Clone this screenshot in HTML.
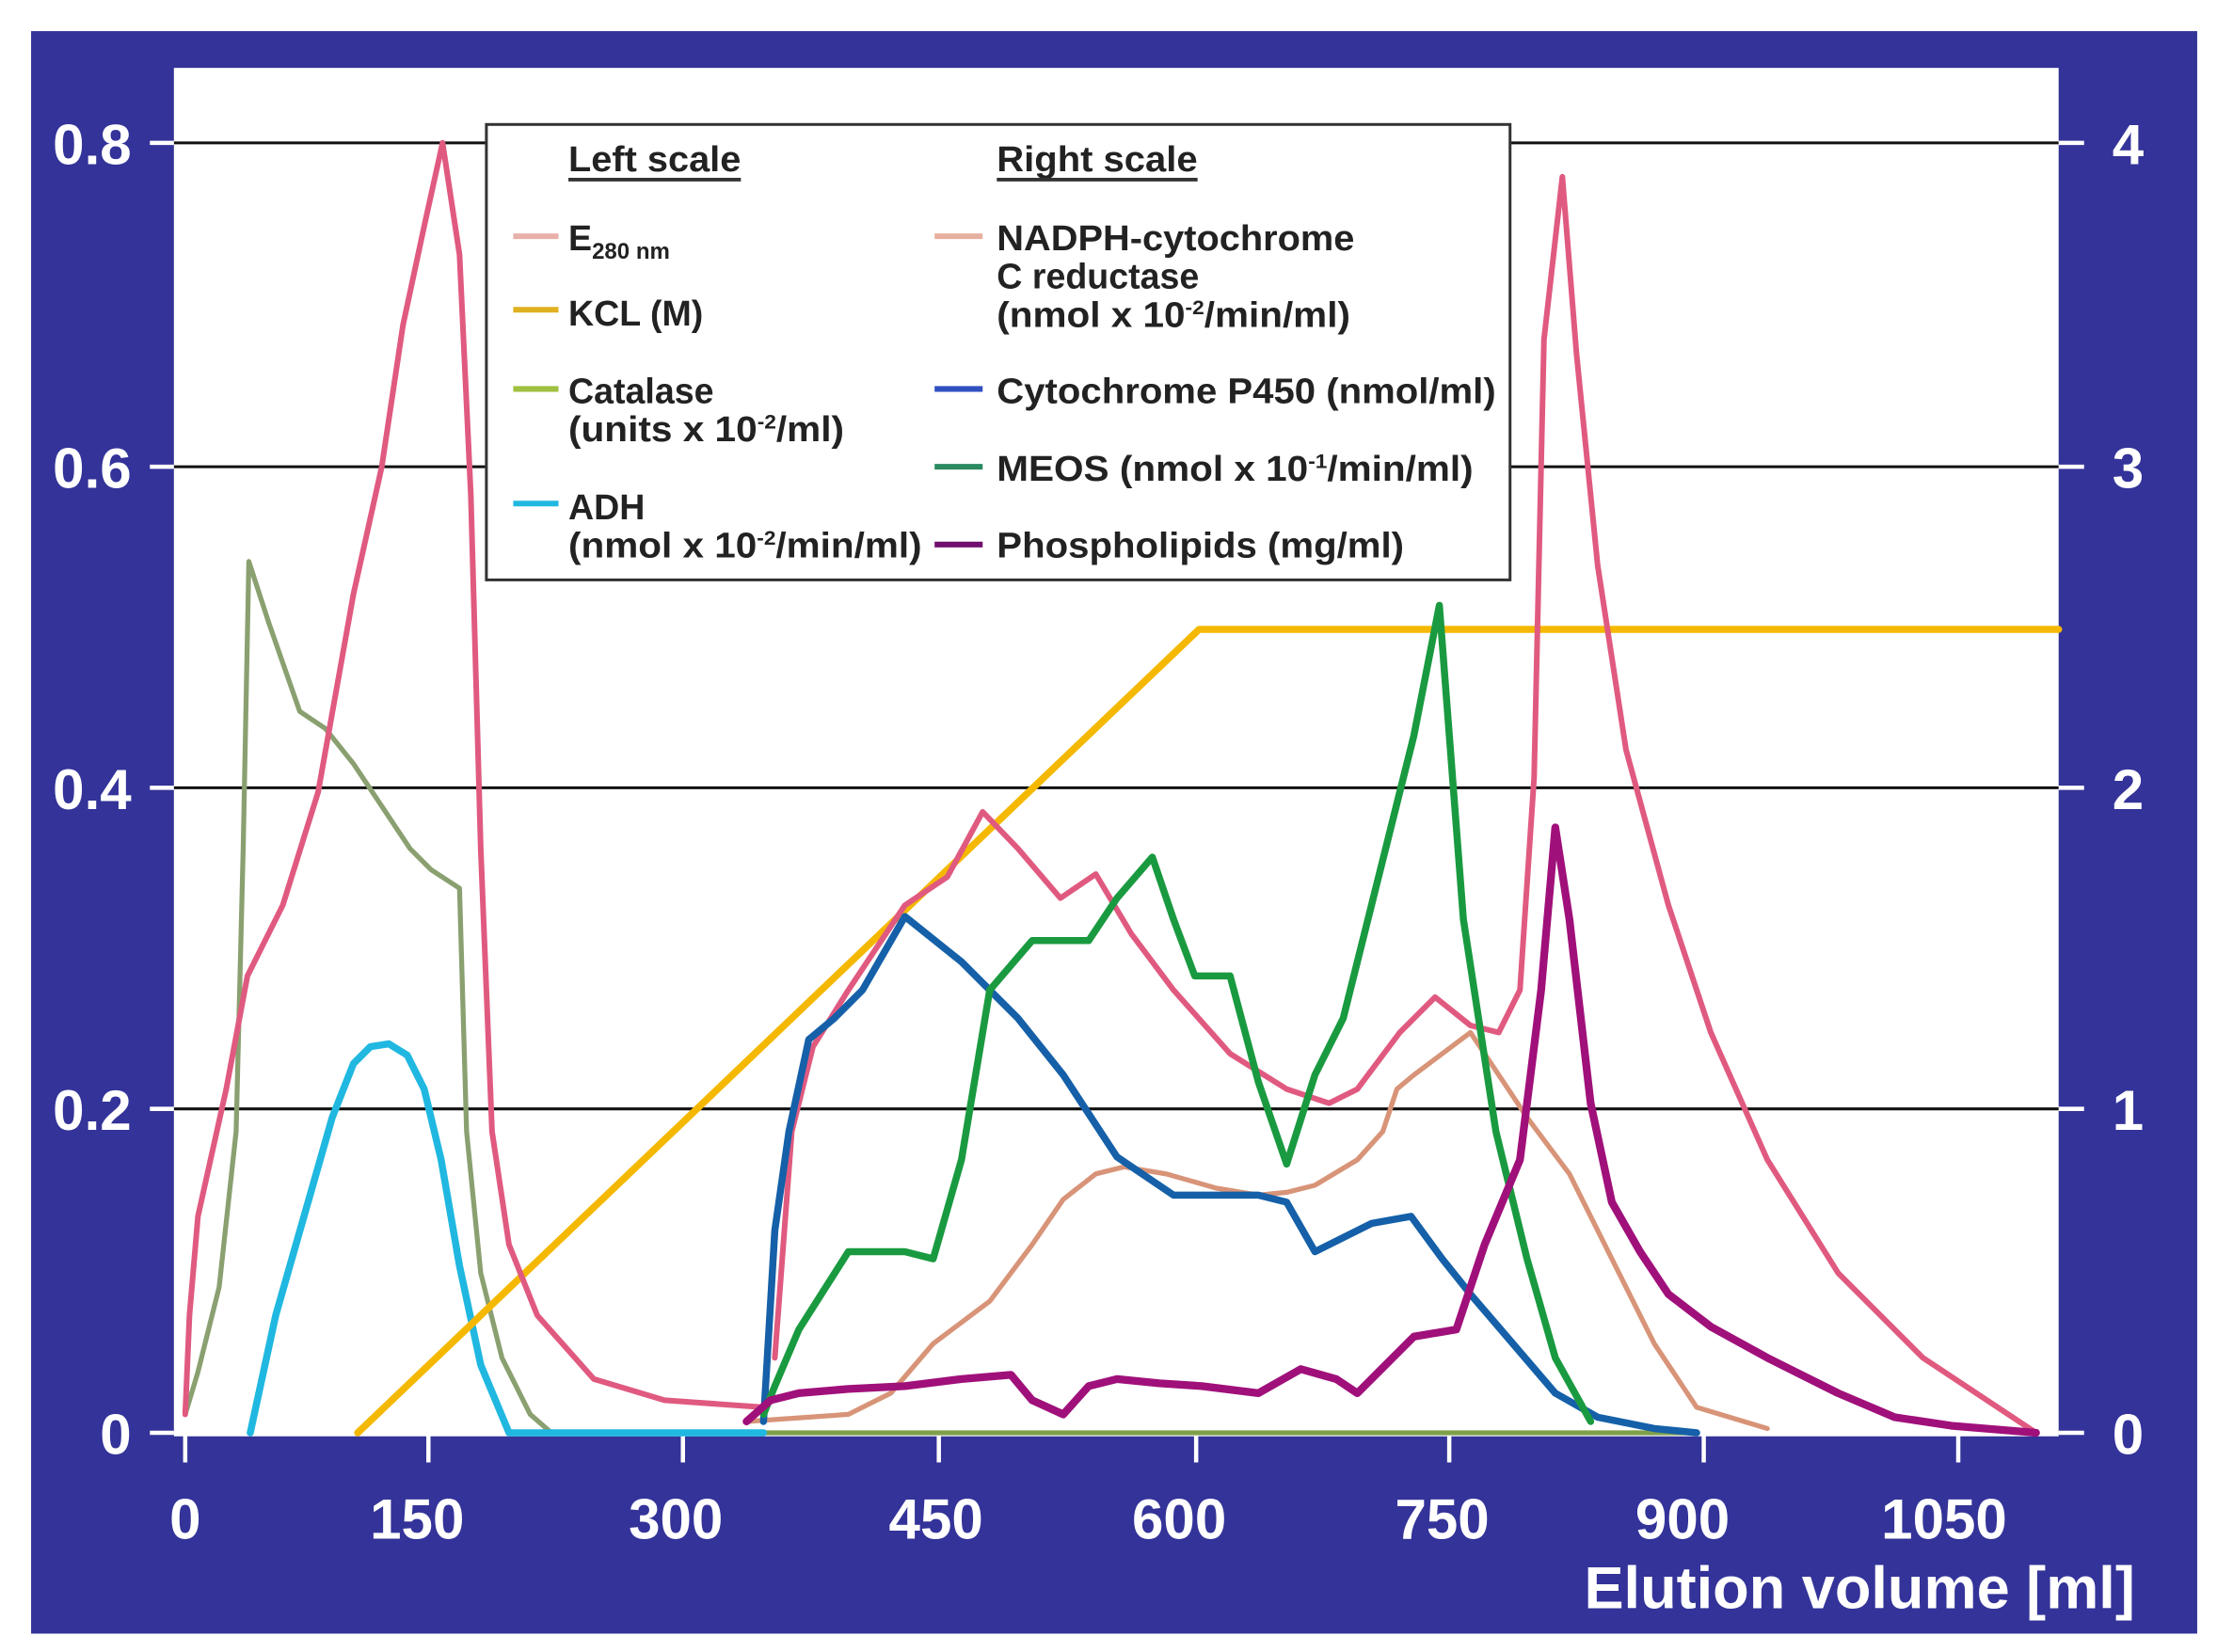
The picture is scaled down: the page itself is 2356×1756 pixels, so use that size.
<!DOCTYPE html>
<html><head><meta charset="utf-8"><style>
html,body{margin:0;padding:0;background:#fff;width:2356px;height:1756px;overflow:hidden}
svg{display:block}
text{font-family:"Liberation Sans",Arial,sans-serif;font-weight:bold}
</style></head><body>
<svg width="2356" height="1756" viewBox="0 0 1568 1168" preserveAspectRatio="none" xmlns="http://www.w3.org/2000/svg">
<rect x="0" y="0" width="1568" height="1168" fill="#fff"/>
<rect x="22" y="22" width="1532" height="1133" fill="#333399"/>
<rect x="123" y="48" width="1333" height="966" fill="#fff"/>
<g stroke="#111" stroke-width="2">
<line x1="123" y1="101" x2="1456" y2="101"/>
<line x1="123" y1="330" x2="1456" y2="330"/>
<line x1="123" y1="557" x2="1456" y2="557"/>
<line x1="123" y1="784" x2="1456" y2="784"/>
</g>
<g stroke="#fff" stroke-width="3">
<line x1="106" y1="101" x2="123" y2="101"/><line x1="106" y1="330" x2="123" y2="330"/>
<line x1="106" y1="557" x2="123" y2="557"/><line x1="106" y1="784" x2="123" y2="784"/>
<line x1="106" y1="1013" x2="123" y2="1013"/>
<line x1="1456" y1="101" x2="1474" y2="101"/><line x1="1456" y1="330" x2="1474" y2="330"/>
<line x1="1456" y1="557" x2="1474" y2="557"/><line x1="1456" y1="784" x2="1474" y2="784"/>
<line x1="1456" y1="1013" x2="1474" y2="1013"/>
<line x1="123" y1="1014" x2="1456" y2="1014"/>
<line x1="131" y1="1000" x2="131" y2="1034"/><line x1="303" y1="1000" x2="303" y2="1034"/>
<line x1="483" y1="1000" x2="483" y2="1034"/><line x1="664" y1="1000" x2="664" y2="1034"/>
<line x1="846" y1="1000" x2="846" y2="1034"/><line x1="1025" y1="1000" x2="1025" y2="1034"/>
<line x1="1205" y1="1000" x2="1205" y2="1034"/><line x1="1385" y1="1000" x2="1385" y2="1034"/>
</g>
<g fill="#fff" font-size="40">
<text x="93" y="116" text-anchor="end">0.8</text>
<text x="93" y="345" text-anchor="end">0.6</text>
<text x="93" y="572" text-anchor="end">0.4</text>
<text x="93" y="799" text-anchor="end">0.2</text>
<text x="93" y="1028" text-anchor="end">0</text>
<text x="1494" y="116">4</text><text x="1494" y="345">3</text><text x="1494" y="572">2</text>
<text x="1494" y="799">1</text><text x="1494" y="1028">0</text>
<g text-anchor="middle">
<text x="131" y="1088">0</text><text x="295" y="1088">150</text><text x="478" y="1088">300</text>
<text x="662" y="1088">450</text><text x="834" y="1088">600</text><text x="1020" y="1088">750</text>
<text x="1190" y="1088">900</text><text x="1375" y="1088">1050</text>
</g>
<text x="1510" y="1137" text-anchor="end" font-size="42">Elution volume [ml]</text>
</g>
<g fill="none" stroke-linejoin="round" stroke-linecap="round">
<polyline stroke="#7fa04a" stroke-width="3.5" points="390,1013 1200,1013"/>
<polyline stroke="#8aa070" stroke-width="3.5" points="131,1000 140,970 155,910 167,800 172,600 176,397 190,440 212,503 230,515 250,540 270,570 290,600 305,615 325,628 330,800 340,900 355,960 375,1000 390,1013"/>
<polyline stroke="#20b8e0" stroke-width="5" points="177,1013 195,930 215,860 235,790 250,752 262,740 275,738 288,746 300,770 312,820 325,895 340,965 360,1013 540,1013"/>
<polyline stroke="#f5b800" stroke-width="5" points="253,1013 848,445 1456,445"/>
<polyline stroke="#e05a80" stroke-width="4" points="131,1000 134,930 140,860 160,770 175,690 200,640 225,560 250,420 270,330 285,230 300,160 313,101 325,180 333,350 340,600 348,800 360,880 380,930 420,975 470,990 540,995"/>
<polyline stroke="#e05a80" stroke-width="4" points="548,960 560,800 575,740 600,700 640,640 670,620 695,574 720,600 750,635 775,618 800,660 830,700 870,745 910,770 940,780 960,770 990,730 1015,705 1040,725 1060,730 1075,700 1085,550 1092,240 1105,125 1115,250 1130,400 1150,530 1180,640 1210,730 1250,820 1300,900 1360,960 1440,1013"/>
<polyline stroke="#d89478" stroke-width="3.5" points="528,1005 600,1000 630,985 660,950 700,920 730,880 752,848 775,830 795,825 825,830 860,840 890,845 910,843 930,838 960,820 978,800 988,770 1000,760 1040,730 1050,745 1080,790 1110,830 1140,890 1170,950 1200,995 1250,1010"/>
<polyline stroke="#1560a8" stroke-width="5" points="540,1005 548,870 558,800 572,735 590,720 610,700 640,648 680,680 720,720 752,760 790,818 830,845 870,845 890,845 910,850 930,885 950,875 970,865 998,860 1020,890 1040,915 1070,950 1100,985 1130,1002 1170,1010 1200,1013"/>
<polyline stroke="#1a9a40" stroke-width="5" points="540,1000 548,980 565,940 600,885 640,885 660,890 680,820 700,700 730,665 770,665 790,635 815,606 830,650 845,690 870,690 890,765 910,823 930,760 950,720 975,620 1000,520 1018,428 1035,650 1058,800 1080,890 1100,960 1125,1005"/>
<polyline stroke="#a0107a" stroke-width="5.5" points="528,1005 545,990 565,985 600,982 640,980 680,975 715,972 730,990 752,1000 770,980 790,975 820,978 850,980 890,985 920,968 945,975 960,985 975,970 1000,945 1030,940 1050,880 1075,820 1090,700 1100,585 1110,650 1125,780 1140,850 1160,885 1180,915 1210,938 1250,960 1300,985 1340,1002 1380,1008 1440,1013"/>
</g>
<rect x="344" y="88" width="724" height="322" fill="#fff" stroke="#333" stroke-width="2"/>
<g fill="#222" font-size="25">
<text x="402" y="121" textLength="122" lengthAdjust="spacingAndGlyphs">Left scale</text>
<line x1="402" y1="127" x2="524" y2="127" stroke="#333" stroke-width="2.5"/>
<text x="705" y="121" textLength="142" lengthAdjust="spacingAndGlyphs">Right scale</text>
<line x1="705" y1="127" x2="847" y2="127" stroke="#333" stroke-width="2.5"/>
<text x="402" y="177">E<tspan font-size="16" dy="6">280 nm</tspan></text>
<text x="402" y="230">KCL (M)</text>
<text x="402" y="285">Catalase</text>
<text x="402" y="312" textLength="195" lengthAdjust="spacingAndGlyphs">(units x 10<tspan font-size="14" dy="-9">-2</tspan><tspan dy="9">/ml)</tspan></text>
<text x="402" y="367">ADH</text>
<text x="402" y="394" textLength="250" lengthAdjust="spacingAndGlyphs">(nmol x 10<tspan font-size="14" dy="-9">-2</tspan><tspan dy="9">/min/ml)</tspan></text>
<text x="705" y="177" textLength="253" lengthAdjust="spacingAndGlyphs">NADPH-cytochrome</text>
<text x="705" y="204">C reductase</text>
<text x="705" y="231" textLength="250" lengthAdjust="spacingAndGlyphs">(nmol x 10<tspan font-size="14" dy="-9">-2</tspan><tspan dy="9">/min/ml)</tspan></text>
<text x="705" y="285" textLength="353" lengthAdjust="spacingAndGlyphs">Cytochrome P450 (nmol/ml)</text>
<text x="705" y="340" textLength="337" lengthAdjust="spacingAndGlyphs">MEOS (nmol x 10<tspan font-size="14" dy="-9">-1</tspan><tspan dy="9">/min/ml)</tspan></text>
<text x="705" y="394" textLength="288" lengthAdjust="spacingAndGlyphs">Phospholipids (mg/ml)</text>
</g>
<g stroke-width="4">
<line x1="363" y1="167" x2="395" y2="167" stroke="#e8b0a8"/>
<line x1="363" y1="219" x2="395" y2="219" stroke="#e0b020"/>
<line x1="363" y1="275" x2="395" y2="275" stroke="#a0c040"/>
<line x1="363" y1="356" x2="395" y2="356" stroke="#20b8e0"/>
<line x1="661" y1="167" x2="695" y2="167" stroke="#e8b0a0"/>
<line x1="661" y1="275" x2="695" y2="275" stroke="#3050c0"/>
<line x1="661" y1="330" x2="695" y2="330" stroke="#2a8a60"/>
<line x1="661" y1="385" x2="695" y2="385" stroke="#701070"/>
</g>
</svg>
</body></html>
